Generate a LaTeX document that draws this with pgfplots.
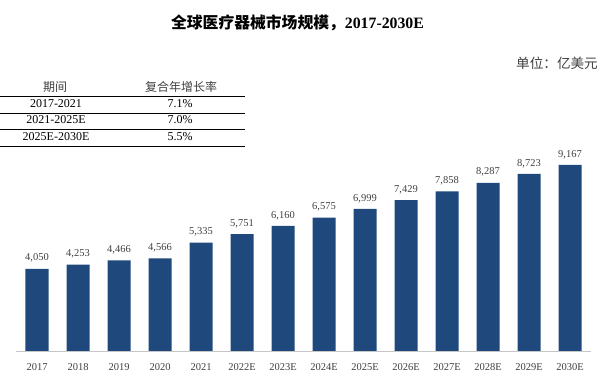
\documentclass[border=0pt]{standalone}
\usepackage{pgfplots}
\pgfplotsset{compat=1.18}
\usepackage{fontspec}
\setmainfont{Liberation Serif}
\newfontfamily\cjk{Noto Sans CJK SC}
\definecolor{barblue}{RGB}{31,73,125}
\definecolor{txt}{RGB}{64,64,64}
\begin{document}
\begin{tikzpicture}[x=1pt,y=1pt]
\useasboundingbox (0,0) rectangle (601,379);
\node[font=\fontsize{15.8}{18}\selectfont\bfseries, inner sep=0] at (297.5,356) {{\cjk 全球医疗器械市场规模，}2017-2030E};
\node[anchor=east, font=\fontsize{13.6}{15}\selectfont\cjk, text=txt, inner sep=0] at (598,316) {单位：亿美元};
\foreach \yy in {283,266,250,233} \draw[line width=0.6pt] (0,\yy) -- (245,\yy);
\node[font=\fontsize{12}{14}\selectfont\cjk, text=txt, inner sep=0] at (55,292.3) {期间};
\node[font=\fontsize{12}{14}\selectfont\cjk, text=txt, inner sep=0] at (181,292.3) {复合年增长率};
\node[font=\fontsize{12}{14}\selectfont, inner sep=0] at (56,275) {2017-2021};
\node[font=\fontsize{12}{14}\selectfont, inner sep=0] at (56,259) {2021-2025E};
\node[font=\fontsize{12}{14}\selectfont, inner sep=0] at (56,242.3) {2025E-2030E};
\node[font=\fontsize{12}{14}\selectfont, inner sep=0] at (180,275) {7.1\%};
\node[font=\fontsize{12}{14}\selectfont, inner sep=0] at (180,259) {7.0\%};
\node[font=\fontsize{12}{14}\selectfont, inner sep=0] at (180,242.3) {5.5\%};
\begin{axis}[
  at={(16.5pt,28pt)}, anchor=south west, scale only axis,
  width=574pt, height=220pt,
  xmin=-0.5, xmax=13.5, ymin=0, ymax=10837,
  axis x line=bottom, axis y line=none,
  x axis line style={-, draw=gray!45, line width=0.8pt},
  xtick=data, major tick length=0,
  xticklabels={2017,2018,2019,2020,2021,2022E,2023E,2024E,2025E,2026E,2027E,2028E,2029E,2030E},
  xticklabel style={font=\fontsize{10.5}{12}\selectfont, text=txt, yshift=-8.5pt},
  clip=false,
]
\addplot[ybar, bar width=23pt, fill=barblue, draw=none,
  nodes near coords, point meta=explicit symbolic,
  nodes near coords style={font=\fontsize{10.5}{12}\selectfont, text=txt, anchor=south, inner sep=0, yshift=6pt}]
coordinates {
(0,4050)[4,050] (1,4253)[4,253] (2,4466)[4,466] (3,4566)[4,566] (4,5335)[5,335]
(5,5751)[5,751] (6,6160)[6,160] (7,6575)[6,575] (8,6999)[6,999] (9,7429)[7,429]
(10,7858)[7,858] (11,8287)[8,287] (12,8723)[8,723] (13,9167)[9,167]
};
\end{axis}
\end{tikzpicture}
\end{document}
